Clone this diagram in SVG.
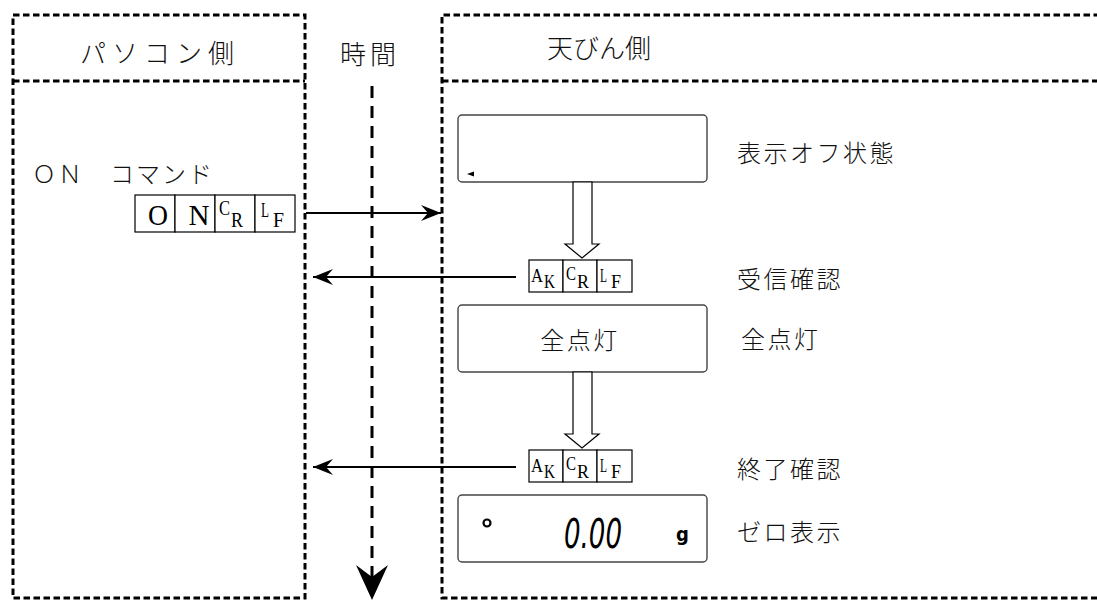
<svg xmlns="http://www.w3.org/2000/svg" width="1097" height="601" viewBox="0 0 1097 601">
<style>
.frame{fill:none;stroke:#000;stroke-width:3;stroke-dasharray:6.5 3.5}
.jp{font-family:"Noto Sans CJK JP","Noto Sans CJK SC",sans-serif;font-weight:300;fill:#111;dominant-baseline:central}
.big{font-size:26px}
.lbl{font-size:24px;letter-spacing:2.5px}
.cell{fill:#fff;stroke:#000;stroke-width:1.2}
.ser{font-family:"Liberation Serif","DejaVu Serif",serif;fill:#000}
.disp{fill:#fff;stroke:#444;stroke-width:1.4}
.conn{stroke:#000;stroke-width:2;fill:none}
.hollow{fill:#fff;stroke:#000;stroke-width:1.2}
</style>
<defs>
<marker id="ah" markerUnits="userSpaceOnUse" markerWidth="24" markerHeight="20" viewBox="-22 -10 24 20" refX="0" refY="0" orient="auto">
<path d="M0,0 L-20,-8 L-13,0 L-20,8 Z" fill="#000"/>
</marker>
</defs>
<rect width="1097" height="601" fill="#fff"/>

<g id="pc-side">
<rect class="frame" x="13" y="15" width="292" height="583"/>
<line class="frame" x1="13" y1="81" x2="305" y2="81"/>
<text class="jp big" x="80" y="51" letter-spacing="6">パソコン側</text>
<text class="jp" x="32" y="172" font-size="24" letter-spacing="2">ＯＮ　コマンド</text>
</g>

<g id="balance-side">
<path class="frame" d="M1100,15 H442 V598 H1100"/>
<line class="frame" x1="442" y1="81" x2="1100" y2="81"/>
<text class="jp big" x="547" y="46" letter-spacing="0">天びん側</text>
</g>

<g id="time-axis">
<text class="jp big" x="340" y="52" letter-spacing="4">時間</text>
<line x1="372" y1="86" x2="372" y2="578" stroke="#000" stroke-width="3" stroke-dasharray="12 8"/>
<polygon points="356,565 372,577 388,565 372,600" fill="#000"/>
</g>

<g id="on-command">
<rect class="cell" x="135" y="195" width="40" height="37"/>
<rect class="cell" x="175" y="195" width="40" height="37"/>
<rect class="cell" x="215" y="195" width="40" height="37"/>
<rect class="cell" x="255" y="195" width="40" height="37"/>
<text class="ser" x="158" y="225" font-size="29" text-anchor="middle" textLength="20" lengthAdjust="spacingAndGlyphs">O</text>
<text class="ser" x="199" y="225" font-size="29" text-anchor="middle" textLength="21" lengthAdjust="spacingAndGlyphs">N</text>
<text class="ser" x="219" y="215" font-size="22" textLength="11" lengthAdjust="spacingAndGlyphs">C</text>
<text class="ser" x="231" y="227" font-size="21" textLength="12" lengthAdjust="spacingAndGlyphs">R</text>
<text class="ser" x="261" y="217" font-size="21" textLength="8" lengthAdjust="spacingAndGlyphs">L</text>
<text class="ser" x="273" y="227" font-size="21" textLength="11" lengthAdjust="spacingAndGlyphs">F</text>
</g>

<g id="display-off">
<rect class="disp" x="458" y="115" width="249" height="67" rx="4"/>
<polygon points="467,174 474,171.5 474,176.5" fill="#000"/>
<text class="jp lbl" x="737" y="151">表示オフ状態</text>
</g>

<g id="ack1">
<rect class="cell" x="529" y="260" width="34" height="32"/>
<rect class="cell" x="563" y="260" width="34" height="32"/>
<rect class="cell" x="597" y="260" width="35" height="32"/>
<text class="ser" x="531" y="282" font-size="19" textLength="12" lengthAdjust="spacingAndGlyphs">A</text>
<text class="ser" x="544" y="288" font-size="18" textLength="11" lengthAdjust="spacingAndGlyphs">K</text>
<text class="ser" x="566" y="280" font-size="19" textLength="10" lengthAdjust="spacingAndGlyphs">C</text>
<text class="ser" x="577" y="288" font-size="18" textLength="12" lengthAdjust="spacingAndGlyphs">R</text>
<text class="ser" x="600" y="282" font-size="19" textLength="7" lengthAdjust="spacingAndGlyphs">L</text>
<text class="ser" x="611" y="288" font-size="18" textLength="10" lengthAdjust="spacingAndGlyphs">F</text>
<text class="jp lbl" x="737" y="277">受信確認</text>
</g>

<g id="display-all-on">
<rect class="disp" x="458" y="305" width="249" height="67" rx="4"/>
<text class="jp lbl" x="580" y="338" text-anchor="middle">全点灯</text>
<text class="jp lbl" x="741" y="337">全点灯</text>
</g>

<g id="ack2">
<rect class="cell" x="529" y="450" width="34" height="32"/>
<rect class="cell" x="563" y="450" width="34" height="32"/>
<rect class="cell" x="597" y="450" width="35" height="32"/>
<text class="ser" x="531" y="472" font-size="19" textLength="12" lengthAdjust="spacingAndGlyphs">A</text>
<text class="ser" x="544" y="478" font-size="18" textLength="11" lengthAdjust="spacingAndGlyphs">K</text>
<text class="ser" x="566" y="470" font-size="19" textLength="10" lengthAdjust="spacingAndGlyphs">C</text>
<text class="ser" x="577" y="478" font-size="18" textLength="12" lengthAdjust="spacingAndGlyphs">R</text>
<text class="ser" x="600" y="472" font-size="19" textLength="7" lengthAdjust="spacingAndGlyphs">L</text>
<text class="ser" x="611" y="478" font-size="18" textLength="10" lengthAdjust="spacingAndGlyphs">F</text>
<text class="jp lbl" x="737" y="467">終了確認</text>
</g>

<g id="display-zero">
<rect class="disp" x="458" y="495" width="249" height="67" rx="4"/>
<circle cx="487" cy="523" r="3.5" fill="none" stroke="#000" stroke-width="2.2"/>
<text x="564" y="548" font-family="DejaVu Sans Condensed,DejaVu Sans,sans-serif" font-style="oblique" font-size="41" textLength="58" lengthAdjust="spacingAndGlyphs" fill="#000">0.00</text>
<text x="676" y="541" font-family="DejaVu Sans Condensed,DejaVu Sans,sans-serif" font-weight="bold" font-size="20" fill="#000">g</text>
<text class="jp lbl" x="737" y="530">ゼロ表示</text>
</g>

<g id="connectors">
<line class="conn" x1="306" y1="213" x2="441" y2="213" marker-end="url(#ah)"/>
<line class="conn" x1="516" y1="277" x2="313" y2="277" marker-end="url(#ah)"/>
<line class="conn" x1="516" y1="467" x2="313" y2="467" marker-end="url(#ah)"/>
<polygon class="hollow" points="573,182 592,182 592,244 599,244 582,258 565,244 573,244"/>
<polygon class="hollow" points="573,372 592,372 592,434 599,434 582,448 565,434 573,434"/>
</g>
</svg>
